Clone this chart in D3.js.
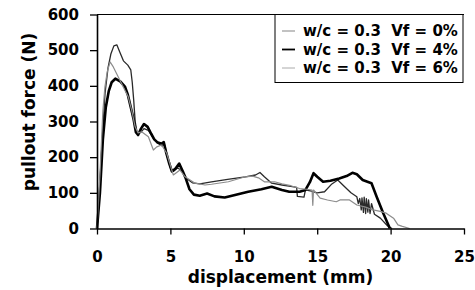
<!DOCTYPE html>
<html>
<head>
<meta charset="utf-8">
<script src="https://cdn.jsdelivr.net/npm/d3@7"></script>
<style>
body { margin: 0; background: #fff; }
text { font-family: "DejaVu Sans", sans-serif; font-weight: bold; white-space: pre; }
</style>
</head>
<body>
<svg id="chart" width="475" height="290"></svg>
<script>
'use strict';

// values: [displacement (mm), pullout force (N)]
const xTicks = [0, 5, 10, 15, 20, 25];
const yTicks = [0, 100, 200, 300, 400, 500, 600];
const seriesNames = ['w/c = 0.3  Vf = 0%', 'w/c = 0.3  Vf = 4%', 'w/c = 0.3  Vf = 6%'];

const vf0 = [[0, 0], [0.15, 80], [0.35, 250], [0.55, 380], [0.75, 450], [0.95, 490], [1.15, 512],
    [1.35, 515], [1.55, 495], [1.8, 470], [2.1, 458], [2.3, 445], [2.4, 410], [2.5, 360], [2.6, 300],
    [2.75, 265], [3.0, 270], [3.2, 280], [3.5, 275], [3.8, 255], [4.1, 240], [4.4, 232], [4.6, 235],
    [4.8, 200], [5.0, 170], [5.2, 160], [5.5, 170], [5.8, 160], [6.1, 140], [6.5, 128], [7.0, 125],
    [7.8, 131], [8.9, 138], [10.1, 145], [10.8, 150], [11.1, 157], [11.4, 145], [11.9, 127],
    [12.6, 122], [13.2, 118], [13.6, 115], [13.65, 90], [14.1, 88], [14.2, 108], [14.6, 105],
    [15.0, 100], [15.5, 103], [16.0, 125], [16.4, 136], [16.8, 120], [17.3, 100], [17.7, 89],
    [17.8, 70], [17.9, 84], [18.0, 52], [18.05, 86], [18.15, 45], [18.2, 88], [18.3, 42],
    [18.35, 84], [18.45, 46], [18.5, 80], [18.6, 42], [18.7, 70], [18.9, 40], [19.3, 29],
    [19.8, 7], [20.1, 0]];

const vf4 = [[0, 0], [0.2, 100], [0.4, 250], [0.6, 340], [0.8, 385], [1.0, 410], [1.25, 420],
    [1.6, 412], [1.9, 398], [2.1, 375], [2.3, 340], [2.5, 305], [2.65, 270], [2.8, 262], [3.0, 280],
    [3.2, 293], [3.45, 285], [3.7, 265], [3.9, 250], [4.1, 242], [4.4, 238], [4.55, 242], [4.7, 215],
    [4.9, 185], [5.1, 160], [5.35, 168], [5.6, 182], [5.85, 160], [6.05, 140], [6.3, 110], [6.6, 95],
    [7.0, 92], [7.5, 98], [8.0, 90], [8.7, 87], [9.4, 94], [10.3, 103], [11.2, 110], [11.9, 117],
    [12.6, 108], [13.1, 103], [13.8, 103], [14.2, 108], [14.5, 130], [14.75, 155], [15.0, 145],
    [15.4, 131], [15.9, 134], [16.5, 140], [17.0, 147], [17.4, 156], [17.7, 152], [18.1, 136],
    [18.7, 127], [19.05, 89], [19.5, 43], [19.85, 10], [19.95, 0]];

const vf6 = [[0, 0], [0.2, 150], [0.4, 330], [0.54, 397], [0.7, 440], [0.89, 467], [1.11, 453],
    [1.45, 425], [1.79, 397], [2.13, 369], [2.36, 332], [2.6, 285], [2.8, 268], [3.04, 271],
    [3.5, 257], [3.84, 220], [4.07, 229], [4.4, 234], [4.75, 211], [5.2, 150], [5.65, 164],
    [6.0, 145], [6.68, 127], [7.36, 122], [7.8, 124], [8.95, 131], [10.1, 145], [10.6, 147],
    [11.0, 142], [11.4, 131], [12.1, 131], [12.6, 125], [13.2, 120], [13.8, 112], [14.3, 110],
    [14.65, 108], [14.7, 65], [14.75, 108], [15.2, 85], [15.7, 80], [16.3, 75], [16.55, 80],
    [17.2, 80], [17.7, 66], [18.3, 60], [18.8, 52], [19.3, 48], [19.7, 43], [20.2, 29], [20.5, 10],
    [20.8, 6], [21.3, 0]];

const series = [vf0, vf4, vf6];
const lineColors = ['#2a2a2a', '#000', '#8c8c8c'];
const lineWidths = [1.3, 2.6, 1.2];
const keyColors = ['#999', '#000', '#aaa'];
const keyWidths = [1.2, 1.8, 1];

const svg = d3.select('#chart');

const x = d3.scaleLinear().domain([0, 25]).range([97, 464]);
const y = d3.scaleLinear().domain([0, 600]).range([228.5, 14.5]);

// frame top
svg.append('line')
    .attr('x1', x(0)).attr('x2', x(25))
    .attr('y1', y(600)).attr('y2', y(600))
    .attr('stroke', '#000').attr('stroke-width', 1.2);

const line = d3.line()
    .x(function (d) { return x(d[0]); })
    .y(function (d) { return y(d[1]); });

svg.selectAll('path.curve').data(series).enter().append('path')
    .attr('class', 'curve')
    .attr('d', line)
    .attr('fill', 'none')
    .attr('stroke', function (d, i) { return lineColors[i]; })
    .attr('stroke-width', function (d, i) { return lineWidths[i]; })
    .attr('stroke-linejoin', 'round');

const xAxis = svg.append('g')
    .attr('transform', 'translate(0,' + y(0) + ')')
    .call(d3.axisBottom(x).tickValues(xTicks).tickSize(6).tickSizeOuter(0).tickPadding(17));

const yAxis = svg.append('g')
    .attr('transform', 'translate(' + x(0) + ',0)')
    .call(d3.axisLeft(y).tickValues(yTicks).tickSize(7).tickSizeOuter(0).tickPadding(11));

[xAxis, yAxis].forEach(function (g) {
    g.select('.domain').attr('stroke', '#000').attr('stroke-width', 1.6);
    g.selectAll('.tick line').attr('stroke', '#000').attr('stroke-width', 1.3);
    g.selectAll('.tick text')
        .attr('fill', '#000')
        .style('font-family', '"DejaVu Sans", sans-serif')
        .style('font-weight', 'bold')
        .style('font-size', '15px');
});

svg.append('text')
    .attr('x', (x(0) + x(25)) / 2)
    .attr('y', 283)
    .attr('text-anchor', 'middle')
    .style('font-size', '17px')
    .text('displacement (mm)');

svg.append('text')
    .attr('transform', 'translate(35,' + 112 + ') rotate(-90)')
    .attr('text-anchor', 'middle')
    .style('font-size', '17px')
    .text('pullout force (N)');

// legend
const legend = svg.append('g');
legend.append('rect')
    .attr('x', 275).attr('y', y(600))
    .attr('width', 188).attr('height', 68)
    .attr('fill', '#fff')
    .attr('stroke', '#000').attr('stroke-width', 1);

const rows = legend.selectAll('g.row').data(seriesNames).enter().append('g')
    .attr('class', 'row')
    .attr('transform', function (d, i) { return 'translate(0,' + (31 + i * 18.5) + ')'; });

rows.append('line')
    .attr('x1', 282).attr('x2', 295)
    .attr('stroke', function (d, i) { return keyColors[i]; })
    .attr('stroke-width', function (d, i) { return keyWidths[i]; });

rows.append('text')
    .attr('x', 303)
    .attr('dy', '0.36em')
    .style('font-size', '15px')
    .text(function (d) { return d; });
</script>
</body>
</html>
